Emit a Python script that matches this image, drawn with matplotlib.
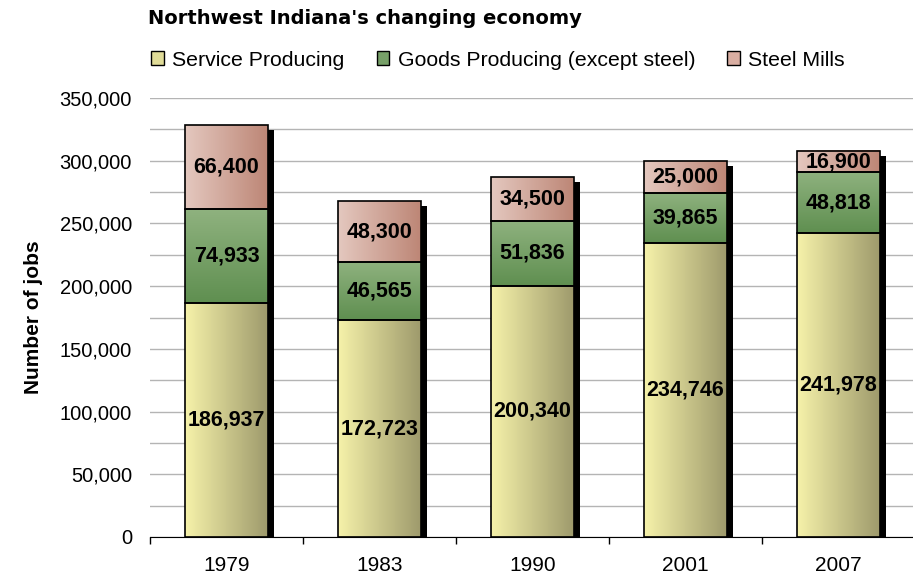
import matplotlib.pyplot as plt
import matplotlib as mpl
import numpy as np
from matplotlib.patches import Rectangle
from matplotlib.colors import LinearSegmentedColormap

mpl.rc("font", family=["Liberation Sans", "DejaVu Sans"])

# data
years = ["1979", "1983", "1990", "2001", "2007"]
service = [186937, 172723, 200340, 234746, 241978]
goods = [74933, 46565, 51836, 39865, 48818]
steel = [66400, 48300, 34500, 25000, 16900]
series_names = ["Service Producing", "Goods Producing (except steel)", "Steel Mills"]

# gradient colours: (start, end, direction)
styles = [
    ("#f6f2aa", "#9e9a6c", "h"),   # yellow, left -> right
    ("#8fb27f", "#5f8f50", "v"),   # green, top -> bottom
    ("#e4c8bf", "#bd8676", "h"),   # pink, left -> right
]
legend_colors = ["#e0dc98", "#77a068", "#d9aea2"]

fig = plt.figure(figsize=(9.13, 5.81), dpi=100)
ax = fig.add_axes([150 / 913, 1 - 537 / 581, 765 / 913, (537 - 98) / 581])

ymax = 350000
width = 0.54
ax.set_xlim(-0.5, len(years) - 0.5)
ax.set_ylim(0, ymax)

# shadow offsets in data units (~6px right, ~5px down)
dx = 6 / 153
dy = 5 * ymax / 439


def grad_bar(x0, x1, y0, y1, style):
    c0, c1, d = style
    cmap = LinearSegmentedColormap.from_list("g", [c0, c1])
    g = np.linspace(0, 1, 256)
    if d == "h":
        arr = g[np.newaxis, :]
    else:
        arr = 1 - g[:, np.newaxis]  # light at top
    ax.imshow(arr, cmap=cmap, extent=[x0, x1, y0, y1], origin="lower",
              aspect="auto", zorder=3, interpolation="bicubic")
    ax.add_patch(Rectangle((x0, y0), x1 - x0, y1 - y0, fill=False,
                           edgecolor="black", lw=1.2, zorder=4))


for i in range(len(years)):
    segs = [service[i], goods[i], steel[i]]
    total = sum(segs)
    x0 = i - width / 2
    x1 = i + width / 2
    # drop shadow
    ax.add_patch(Rectangle((x0 + dx, 0), width, total - dy,
                           facecolor="black", edgecolor="none", zorder=2))
    bottom = 0
    for v, st in zip(segs, styles):
        grad_bar(x0, x1, bottom, bottom + v, st)
        ax.text(i, bottom + v / 2, f"{v:,}", ha="center", va="center",
                fontsize=15.5, fontweight="bold", zorder=5)
        bottom += v

ax.set_xlim(-0.5, len(years) - 0.5)
ax.set_ylim(0, ymax)

# grid
ax.set_yticks(np.arange(0, ymax + 1, 50000))
ax.set_yticks(np.arange(25000, ymax, 50000), minor=True)
ax.yaxis.set_major_formatter(mpl.ticker.FuncFormatter(lambda v, p: f"{int(v):,}"))
ax.grid(axis="y", which="both", color="#b4b4b4", lw=1, zorder=0)
ax.tick_params(axis="y", which="both", length=0, labelsize=14.5, pad=13)

ax.set_xticks(range(len(years)))
ax.set_xticklabels(years)
ax.set_xticks(np.arange(-0.5, len(years)), minor=True)
ax.tick_params(axis="x", which="major", length=0, labelsize=15, pad=14)
ax.tick_params(axis="x", which="minor", length=5, color="black", width=1)

for s in ["top", "right", "left"]:
    ax.spines[s].set_visible(False)
ax.spines["bottom"].set_color("black")
ax.spines["bottom"].set_zorder(6)

ax.set_ylabel("Number of jobs", fontsize=15, fontweight="bold", labelpad=12)

fig.text(148 / 913, 1 - 19 / 581, "Northwest Indiana's changing economy",
         fontsize=14, fontweight="bold", family="DejaVu Sans",
         ha="left", va="center")

handles = [Rectangle((0, 0), 1, 1, facecolor=c, edgecolor="black", lw=1)
           for c in legend_colors]
fig.legend(handles, series_names, loc="center left",
           bbox_to_anchor=(132 / 913, 1 - 60 / 581), ncol=3, frameon=False,
           fontsize=15.3, handlelength=0.6, handleheight=0.6, handletextpad=0.4,
           columnspacing=1.5)

fig.savefig("out.png", dpi=100)
